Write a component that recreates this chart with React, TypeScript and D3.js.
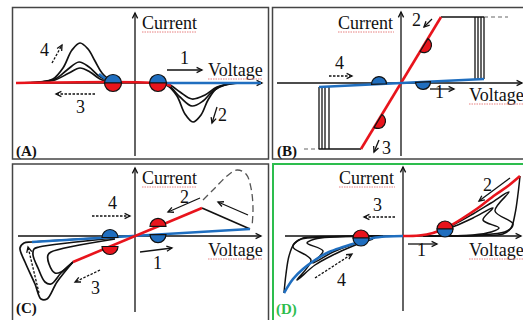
import React from 'react';
import * as d3 from 'd3';

type P = [number, number];

// ---------- Panel frames ----------
const panelLabels = ['(A)', '(B)', '(C)', '(D)'];
const panelOrigins: P[] = [[135, 83], [401, 83], [135, 236], [403, 236]];

// ---------- Panel A ----------
const aPeakLarge: P[] = [[-119, 0], [-95, 1], [-82, 4], [-72, 15], [-63, 33], [-55, 40], [-47, 34], [-40, 22], [-33, 10], [-22, 0]];
const aPeakMid: P[] = [[-119, 0], [-95, 1], [-80, 4], [-68, 13], [-56, 21], [-46, 16], [-36, 7], [-22, 0]];
const aPeakSmall: P[] = [[-119, 0], [-95, 1], [-80, 3], [-66, 10], [-55, 15], [-45, 11], [-35, 4], [-22, 0]];
const aTroughLarge: P[] = [[23, 0], [33, -3], [42, -13], [50, -31], [58, -39], [66, -32], [73, -17], [82, -5], [95, -1], [105, 0]];
const aTroughMid: P[] = [[23, 0], [34, -3], [45, -14], [57, -23], [68, -18], [78, -8], [90, -2], [105, 0]];
const aTroughSmall: P[] = [[23, 0], [35, -2], [45, -9], [57, -16], [70, -12], [82, -4], [98, 0]];
const aRed: P[] = [[-119, 0], [28, -0.5], [36, -3]];
const aBlueLeft: P[] = [[-36, 9], [-29, 4], [-20, 0.5]];
const aBlueRight: P[] = [[20, 0], [126, 0]];

// ---------- Panel B ----------
const bRed: P[] = [[-40, -66], [40, 66]];
const bBlue: P[] = [[-82, -4], [83, 4]];
const bTop: P[] = [[40, 66], [83, 66]];
const bTopDash: P[] = [[83, 66], [107, 66]];
const bTopVerticals = [74, 77, 80, 83];
const bBottom: P[] = [[-82, -66], [-40, -66]];
const bBottomDash: P[] = [[-97, -66], [-82, -66]];
const bBottomVerticals = [-82, -79, -76, -72];

// ---------- Panel C ----------
const cRed: P[] = [[-62, -26], [67, 28]];
const cBlack: P[] = [[67, 28], [115, 7]];
const cBlue: P[] = [[-103, -6], [115, 7]];
const cDashLoop: P[] = [[68, 36], [80, 48], [92, 60], [102, 66], [111, 62], [116, 48], [118, 28], [117, 9]];
const cLoopOuter: P[] = [[-20, -1], [-103, -6], [-111, -7], [-115, -12], [-110, -26], [-100, -48], [-94, -63], [-88, -63], [-78, -46], [-62, -26]];
const cLoopMid: P[] = [[-20, -2], [-96, -11], [-101, -13], [-102, -19], [-97, -32], [-90, -46], [-84, -48], [-74, -37], [-62, -26]];
const cLoopInner: P[] = [[-20, -3], [-84, -16], [-87, -19], [-86, -28], [-80, -37], [-74, -36], [-62, -26]];

// ---------- Panel D ----------
const dRed: P[] = [[0, 0], [16, 0.5], [30, 3], [45, 9], [60, 18], [75, 28], [92, 41], [105, 50], [117, 60]];
const dBlue: P[] = [[0, 0], [-16, -0.5], [-30, -2], [-44, -6], [-60, -11], [-74, -16], [-88, -24], [-100, -33], [-110, -43], [-119, -57]];
// right-hand loops: closed outlines (upper branch, tip, notch, lower branch back to the axis)
const dRightOuter: P[] = [[117, 60], [115, 42], [112, 22], [108, 8], [100, 2], [80, 0.5], [20, 0]];
const dRightMid: P[] = [[30, 3], [50, 11], [70, 22], [88, 33], [106, 44], [92, 25], [110, 12], [104, 5], [85, 1.5], [20, 0]];
const dRightInner: P[] = [[34, 4], [52, 10], [70, 18], [90, 28], [80, 16], [96, 8], [88, 4], [70, 1], [20, 0]];
const dLeftOuter: P[] = [[-119, -57], [-117, -38], [-114, -20], [-109, -8], [-100, -2], [-80, -0.5], [-20, 0]];
const dLeftMid: P[] = [[-30, -3], [-50, -10], [-70, -19], [-88, -29], [-106, -44], [-92, -24], [-110, -11], [-104, -4], [-85, -1.5], [-20, 0]];
const dLeftInner: P[] = [[-34, -4], [-52, -9], [-70, -16], [-90, -27], [-80, -15], [-96, -7], [-88, -3], [-70, -1], [-20, 0]];

const RED = '#e8141c';
const BLUE = '#1f6ebf';
const GREEN = '#2dbd4e';
const FONT = '"Liberation Serif", "Times New Roman", Times, serif';

function makeScales(o: P) {
  const xs = d3.scaleLinear().domain([-200, 200]).range([o[0] - 200, o[0] + 200]);
  const ys = d3.scaleLinear().domain([-200, 200]).range([o[1] + 200, o[1] - 200]);
  return { xs, ys };
}

function pathOf(pts: P[], o: P, curve: any = d3.curveLinear) {
  const { xs, ys } = makeScales(o);
  return d3.line<P>().x(d => xs(d[0])).y(d => ys(d[1])).curve(curve)(pts) || '';
}

function Arrow({ o, from, to, dashed }: { o: P; from: P; to: P; dashed?: boolean }) {
  const { xs, ys } = makeScales(o);
  const x1 = xs(from[0]), y1 = ys(from[1]), x2 = xs(to[0]), y2 = ys(to[1]);
  const ang = Math.atan2(y2 - y1, x2 - x1);
  const L = 6, W = 0.45;
  const h1: P = [x2 - L * Math.cos(ang - W), y2 - L * Math.sin(ang - W)];
  const h2: P = [x2 - L * Math.cos(ang + W), y2 - L * Math.sin(ang + W)];
  return (
    <g stroke="#111" fill="none" strokeWidth={1.3}>
      <line x1={x1} y1={y1} x2={x2} y2={y2} strokeDasharray={dashed ? '2.5,1.5' : undefined} />
      <polyline points={`${h1[0]},${h1[1]} ${x2},${y2} ${h2[0]},${h2[1]}`} />
    </g>
  );
}

function HalfDisc({ o, c, r, color, up, angle = 0 }: { o: P; c: P; r: number; color: string; up: boolean; angle?: number }) {
  const { xs, ys } = makeScales(o);
  const cx = xs(c[0]), cy = ys(c[1]);
  const sweep = up ? 1 : 0;
  const d = `M${-r},0 A${r},${r} 0 0 ${sweep} ${r},0 Z`;
  return <path d={d} transform={`translate(${cx},${cy}) rotate(${angle})`} fill={color} stroke="#111" strokeWidth={1.2} />;
}

function Txt({ x, y, t, size = 18, bold, color = '#111' }: { x: number; y: number; t: string; size?: number; bold?: boolean; color?: string }) {
  return (
    <text x={x} y={y} style={{ fontFamily: FONT, fontSize: size, fontWeight: bold ? 'bold' : 'normal' }} fill={color}>
      {t}
    </text>
  );
}

function Squiggle({ x, y, w }: { x: number; y: number; w: number }) {
  return <line x1={x} y1={y} x2={x + w} y2={y} stroke="#e57373" strokeWidth={0.9} strokeDasharray="1.5,1" />;
}

function Axes({ o, xl, xr, yt, yb }: { o: P; xl: number; xr: number; yt: number; yb: number }) {
  return (
    <g>
      <Arrow o={o} from={[xl, 0]} to={[xr, 0]} />
      <Arrow o={o} from={[0, yb]} to={[0, yt]} />
    </g>
  );
}

export default function App() {
  const [oA, oB, oC, oD] = panelOrigins;
  const blk = { stroke: '#111', strokeWidth: 1.7, fill: 'none' };
  const cr = d3.curveCatmullRom.alpha(0.5);
  const bRedAngle = (Math.atan2(-(bRed[1][1] - bRed[0][1]), bRed[1][0] - bRed[0][0]) * 180) / Math.PI;
  const bBlueAngle = (Math.atan2(-(bBlue[1][1] - bBlue[0][1]), bBlue[1][0] - bBlue[0][0]) * 180) / Math.PI;
  const bBlueY = (x: number) => bBlue[0][1] + ((x - bBlue[0][0]) * (bBlue[1][1] - bBlue[0][1])) / (bBlue[1][0] - bBlue[0][0]);
  const bRedY = (x: number) => (x * bRed[1][1]) / bRed[1][0];
  return (
    <svg width={523} height={320} style={{ position: 'absolute', left: 0, top: 0, background: '#fff' }}>
      <rect width={523} height={320} fill="#fff" />
      {/* frames */}
      <rect x={12.5} y={7.5} width={256} height={151.5} fill="none" stroke="#444" strokeWidth={1.5} />
      <rect x={272.5} y={7.5} width={260} height={151.5} fill="none" stroke="#444" strokeWidth={1.5} />
      <rect x={12.5} y={164} width={256} height={170} fill="none" stroke="#444" strokeWidth={1.5} />
      <rect x={273} y={164} width={260} height={170} fill="none" stroke={GREEN} strokeWidth={2} />

      {/* ===== A ===== */}
      <Axes o={oA} xl={-119} xr={127} yt={70} yb={-73} />
      {[aPeakLarge, aPeakMid, aPeakSmall, aTroughLarge, aTroughMid, aTroughSmall].map((p, i) => (
        <path key={i} d={pathOf(p, oA, cr)} {...blk} />
      ))}
      <path d={pathOf(aRed, oA, cr)} stroke={RED} strokeWidth={2.6} fill="none" />
      <path d={pathOf(aBlueRight, oA)} stroke={BLUE} strokeWidth={2.6} fill="none" />
      <path d={pathOf(aBlueLeft, oA, cr)} stroke={BLUE} strokeWidth={2.6} fill="none" />
      <HalfDisc o={oA} c={[-22, 0]} r={8.5} color={BLUE} up={true} />
      <HalfDisc o={oA} c={[-22, 0]} r={8.5} color={RED} up={false} />
      <HalfDisc o={oA} c={[23, 0]} r={8.5} color={BLUE} up={true} />
      <HalfDisc o={oA} c={[23, 0]} r={8.5} color={RED} up={false} />
      <Arrow o={oA} from={[32, 13]} to={[67, 13]} />
      <Arrow o={oA} from={[82, -24]} to={[77, -40]} />
      <Arrow o={oA} from={[-40, -11]} to={[-79, -11]} dashed />
      <Arrow o={oA} from={[-83, 20]} to={[-73, 38]} dashed />
      <Txt x={142} y={29} t="Current" />
      <Squiggle x={142} y={32} w={55} />
      <Txt x={208} y={76} t="Voltage" />
      <Squiggle x={208} y={79} w={55} />
      <Txt x={180} y={64} t="1" />
      <Txt x={218} y={121} t="2" />
      <Txt x={76} y={113} t="3" />
      <Txt x={40} y={56} t="4" />
      <Txt x={16} y={156} t="(A)" size={15} bold />

      {/* ===== B ===== */}
      <Axes o={oB} xl={-124} xr={121} yt={71} yb={-73} />
      <path d={pathOf(bTop, oB)} {...blk} />
      <path d={pathOf(bBottom, oB)} {...blk} />
      <path d={pathOf(bTopDash, oB)} stroke="#666" strokeWidth={1.2} strokeDasharray="4,3" fill="none" />
      <path d={pathOf(bBottomDash, oB)} stroke="#666" strokeWidth={1.2} strokeDasharray="4,3" fill="none" />
      {bTopVerticals.map((x, i) => (
        <path key={'tv' + i} d={pathOf([[x, 66], [x, bBlueY(x)]], oB)} {...blk} strokeWidth={1.3} />
      ))}
      {bBottomVerticals.map((x, i) => (
        <path key={'bv' + i} d={pathOf([[x, -66], [x, bBlueY(x)]], oB)} {...blk} strokeWidth={1.3} />
      ))}
      <path d={pathOf(bRed, oB)} stroke={RED} strokeWidth={2.6} fill="none" />
      <path d={pathOf(bBlue, oB)} stroke={BLUE} strokeWidth={2.6} fill="none" />
      <HalfDisc o={oB} c={[23, bRedY(23)]} r={7.5} color={RED} up={false} angle={bRedAngle} />
      <HalfDisc o={oB} c={[-23, bRedY(-23)]} r={7.5} color={RED} up={false} angle={bRedAngle} />
      <HalfDisc o={oB} c={[-22, bBlueY(-22)]} r={7.5} color={BLUE} up={true} angle={bBlueAngle} />
      <HalfDisc o={oB} c={[22, bBlueY(22)]} r={7.5} color={BLUE} up={false} angle={bBlueAngle} />
      <Arrow o={oB} from={[31, 64]} to={[23, 56]} />
      <Arrow o={oB} from={[-22, -57]} to={[-27, -69]} />
      <Arrow o={oB} from={[-72, 7]} to={[-49, 7]} dashed />
      <Arrow o={oB} from={[29, -6]} to={[53, -6]} />
      <Txt x={338} y={29} t="Current" />
      <Squiggle x={338} y={32} w={56} />
      <Txt x={469} y={101} t="Voltage" />
      <Squiggle x={469} y={104} w={55} />
      <Txt x={435} y={98} t="1" />
      <Txt x={412} y={26} t="2" />
      <Txt x={382} y={154} t="3" />
      <Txt x={335} y={69} t="4" />
      <Txt x={277} y={156} t="(B)" size={15} bold />

      {/* ===== C ===== */}
      <Axes o={oC} xl={-117} xr={126} yt={68} yb={-76} />
      <path d={pathOf(cDashLoop, oC, cr)} stroke="#555" strokeWidth={1.3} strokeDasharray="7,4" fill="none" />
      <path d={pathOf(cLoopOuter, oC, cr)} {...blk} />
      <path d={pathOf(cLoopMid, oC, cr)} {...blk} />
      <path d={pathOf(cLoopInner, oC, cr)} {...blk} />
      <path d={pathOf(cBlack, oC)} {...blk} />
      <path d={pathOf(cBlue, oC)} stroke={BLUE} strokeWidth={2.6} fill="none" />
      <path d={pathOf(cRed, oC)} stroke={RED} strokeWidth={2.6} fill="none" />
      <HalfDisc o={oC} c={[23, 9.6]} r={8} color={RED} up={true} />
      <HalfDisc o={oC} c={[23, 1.4]} r={8} color={BLUE} up={false} />
      <HalfDisc o={oC} c={[-25, -1.5]} r={8} color={BLUE} up={true} />
      <HalfDisc o={oC} c={[-25, -10.5]} r={8} color={RED} up={false} />
      <Arrow o={oC} from={[5, -16]} to={[37, -12]} />
      <Arrow o={oC} from={[65, 38]} to={[33, 24]} />
      <Arrow o={oC} from={[113, 21]} to={[83, 34]} />
      <Arrow o={oC} from={[-43, 20]} to={[-5, 20]} dashed />
      <Arrow o={oC} from={[-35, -34]} to={[-60, -46]} dashed />
      <Arrow o={oC} from={[-96, -57]} to={[-107, -11]} dashed />
      <Txt x={142} y={184} t="Current" />
      <Squiggle x={142} y={187} w={55} />
      <Txt x={208} y={256} t="Voltage" />
      <Squiggle x={208} y={259} w={55} />
      <Txt x={153} y={269} t="1" />
      <Txt x={180} y={203} t="2" />
      <Txt x={91} y={294} t="3" />
      <Txt x={108} y={209} t="4" />
      <Txt x={16} y={313} t="(C)" size={15} bold />

      {/* ===== D ===== */}
      <Axes o={oD} xl={-118} xr={118} yt={69} yb={-75} />
      {[dRightOuter, dRightMid, dRightInner, dLeftOuter, dLeftMid, dLeftInner].map((p, i) => (
        <path key={'dl' + i} d={pathOf(p, oD, d3.curveCatmullRom.alpha(0.5))} {...blk} strokeWidth={1.5} strokeLinejoin="round" />
      ))}
      <path d={pathOf(dRed, oD, cr)} stroke={RED} strokeWidth={2.6} fill="none" />
      <path d={pathOf(dBlue, oD, cr)} stroke={BLUE} strokeWidth={2.6} fill="none" />
      <HalfDisc o={oD} c={[42, 7]} r={8} color={RED} up={true} />
      <HalfDisc o={oD} c={[42, 7]} r={8} color={BLUE} up={false} />
      <HalfDisc o={oD} c={[-42, -2]} r={8} color={RED} up={true} />
      <HalfDisc o={oD} c={[-42, -2]} r={8} color={BLUE} up={false} />
      <Arrow o={oD} from={[5, -8]} to={[34, -8]} />
      <Arrow o={oD} from={[107, 58]} to={[76, 35]} />
      <Arrow o={oD} from={[-8, 19]} to={[-39, 19]} dashed />
      <Arrow o={oD} from={[-88, -42]} to={[-51, -18]} dashed />
      <Txt x={339} y={184} t="Current" />
      <Squiggle x={339} y={187} w={56} />
      <Txt x={469} y={256} t="Voltage" />
      <Squiggle x={469} y={259} w={55} />
      <Txt x={417} y={256} t="1" />
      <Txt x={483} y={191} t="2" />
      <Txt x={373} y={211} t="3" />
      <Txt x={337} y={286} t="4" />
      <Txt x={276} y={314} t="(D)" size={15} bold color={GREEN} />
    </svg>
  );
}
